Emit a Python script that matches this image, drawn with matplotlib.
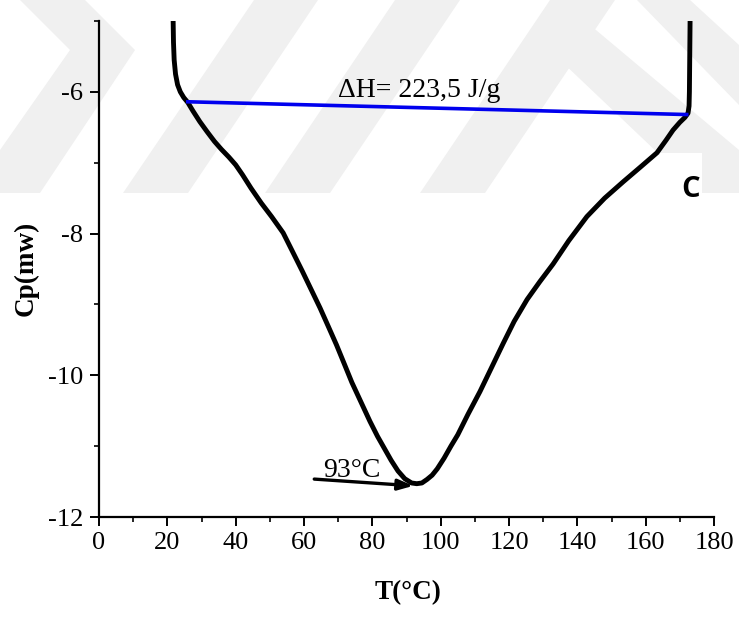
import matplotlib
matplotlib.use("Agg")
import matplotlib.pyplot as plt
from matplotlib.patches import Polygon, Rectangle
from matplotlib.ticker import MultipleLocator

plt.rcParams["axes.unicode_minus"] = False

# ---- data ----
temp = [21.7, 21.8, 22.0, 22.4, 23.0, 23.8, 24.8, 26.0, 27.5, 29.5, 31.6, 33.8,
        35.8, 38.0, 40.0, 42.0, 44.5, 47.5, 50.5, 53.9, 56.5, 59.5, 62.2, 64.7,
        67.2, 69.5, 71.8, 74.0, 76.6, 79.3, 81.5, 83.5, 85.5, 87.5, 89.5, 91.5,
        93.0, 94.5, 96.0, 97.5, 99.0, 101.0, 103.0, 105.0, 108.0, 111.5, 115.0,
        118.3, 121.5, 125.3, 129.0, 132.9, 137.5, 142.8, 148.0, 153.4, 158.5,
        163.3, 166.0, 168.0, 170.0, 171.5, 172.4, 172.7, 172.8, 172.9, 173.0]
cp = [-5.0, -5.3, -5.55, -5.75, -5.9, -6.0, -6.08, -6.15, -6.27, -6.42, -6.56, -6.7,
      -6.81, -6.92, -7.03, -7.17, -7.36, -7.57, -7.76, -7.99, -8.24, -8.53, -8.8, -9.05,
      -9.32, -9.57, -9.84, -10.1, -10.37, -10.65, -10.86, -11.03, -11.2, -11.35, -11.46, -11.52,
      -11.53, -11.52, -11.47, -11.41, -11.32, -11.17, -11.0, -10.84, -10.55, -10.23, -9.88,
      -9.55, -9.24, -8.93, -8.68, -8.43, -8.1, -7.76, -7.5, -7.27, -7.06,
      -6.86, -6.68, -6.54, -6.43, -6.36, -6.3, -6.2, -6.0, -5.5, -5.0]
baseline_t = [26.0, 172.0]
baseline_cp = [-6.14, -6.32]
peak_t, peak_cp = 93, -11.53
dh_label = "ΔH= 223,5 J/g"
peak_label = "93°C"
panel_label = "C"
xticks = [0, 20, 40, 60, 80, 100, 120, 140, 160, 180]
yticks = [-12, -10, -8, -6]

W, H = 739, 619
fig = plt.figure(figsize=(W / 100, H / 100), dpi=100)
fig.patch.set_facecolor("white")

# faint background watermark (pixel coords, y from top)
wm = [
    [(20, 0), (85, 0), (135, 50), (40, 193), (0, 193), (0, 150), (70, 50)],
    [(123, 193), (188, 193), (318, 0), (254, 0)],
    [(265, 193), (330, 193), (460, 0), (395, 0)],
    [(420, 193), (485, 193), (615, 0), (550, 0)],
    [(637, 0), (690, 0), (739, 45), (739, 105)],
    [(560, 60), (590, 25), (739, 150), (739, 193), (700, 193)],
]
for poly in wm:
    pts = [(x / W, 1 - y / H) for x, y in poly]
    fig.add_artist(Polygon(pts, closed=True, transform=fig.transFigure,
                           facecolor="#f0f0f0", edgecolor="none", zorder=0))

ax = fig.add_axes([99 / W, 1 - 517 / H, (714 - 99) / W, (517 - 21) / H])
ax.patch.set_alpha(0)
ax.set_zorder(1)

serif = "Liberation Serif"

ax.plot(temp, cp, color="black", lw=3.5, solid_joinstyle="round",
        solid_capstyle="butt", zorder=3)
ax.plot(baseline_t, baseline_cp, color="#0000ee", lw=2.6, zorder=4)

ax.text(69.9, -6.07, dh_label, fontsize=20, family=serif, ha="left", va="baseline")
ax.text(65.6, -11.44, peak_label, fontsize=20, family=serif, ha="left", va="baseline")
ax.annotate("", xy=(peak_t - 1.0, peak_cp - 0.03), xytext=(63.0, -11.465),
            arrowprops=dict(arrowstyle="-|>,head_length=0.9,head_width=0.32",
                            color="black", lw=2.4, shrinkA=0, shrinkB=0))

# white box behind panel letter
fig.add_artist(Rectangle((660 / W, 1 - 212 / H), 42 / W, 59 / H, transform=fig.transFigure,
                         facecolor="white", edgecolor="none", zorder=0.5))
ax.text(173.2, -7.38, panel_label, fontsize=21, family="Open Sans", weight="bold",
        ha="center", va="center")

ax.set_xlim(0, 180)
ax.set_ylim(-12, -5)
ax.set_xticks(xticks)
ax.set_yticks(yticks)
ax.xaxis.set_minor_locator(MultipleLocator(10))
ax.yaxis.set_minor_locator(MultipleLocator(1))
for s in ["top", "right"]:
    ax.spines[s].set_visible(False)
for s in ["left", "bottom"]:
    ax.spines[s].set_linewidth(1.6)
ax.tick_params(which="major", direction="out", length=6.5, width=1.4, labelsize=19, pad=4)
ax.tick_params(which="minor", direction="out", length=3.5, width=1.2)
ax.tick_params(axis="y", which="major", pad=5)
for lab in ax.get_xticklabels() + ax.get_yticklabels():
    lab.set_family(serif)

ax.set_xlabel("T(°C)", fontsize=19.5, family=serif, weight="bold")
ax.set_ylabel("Cp(mw)", fontsize=19.5, family=serif, weight="bold")
ax.xaxis.set_label_coords((408 - 99) / 615, -(580 - 517) / 496)
ax.yaxis.set_label_coords(-(99 - 39) / 615, (517 - 268) / 496)

fig.savefig("out.png", dpi=100, facecolor="white")
